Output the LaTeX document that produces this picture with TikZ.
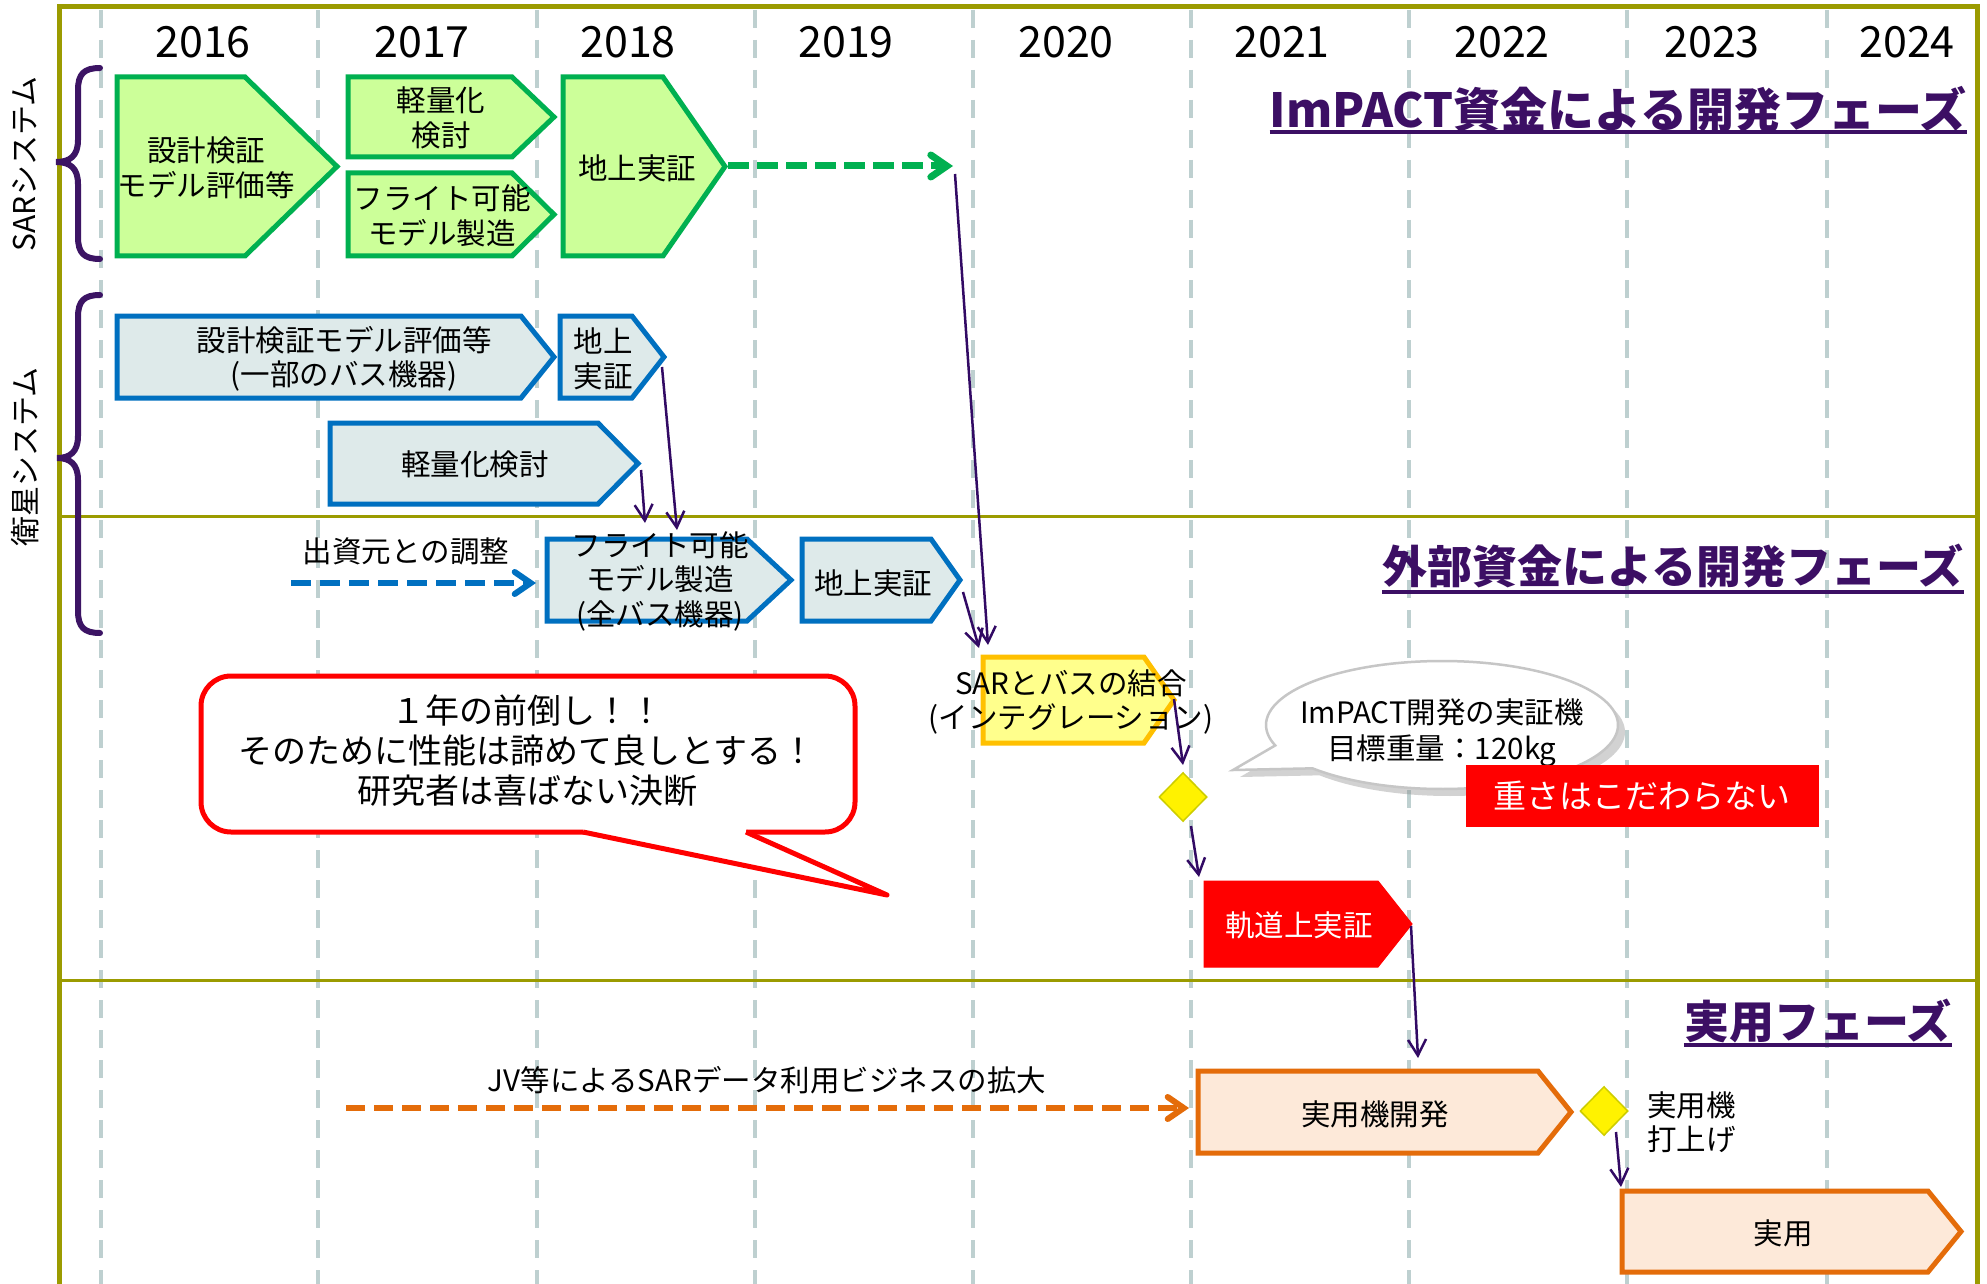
\documentclass[tikz,border=0pt]{standalone}
\usepackage{fontspec}
\setmainfont{Noto Sans CJK JP}
\usetikzlibrary{arrows.meta,shapes.geometric,shapes.callouts,shadows}
\definecolor{olivef}{RGB}{155,155,0}
\definecolor{gridc}{RGB}{190,208,208}
\definecolor{bracec}{RGB}{60,20,100}
\definecolor{headc}{RGB}{60,15,100}
\definecolor{arrc}{RGB}{50,10,100}
\definecolor{gfill}{RGB}{204,255,153}
\definecolor{gline}{RGB}{0,176,80}
\definecolor{bfill}{RGB}{222,234,234}
\definecolor{bline}{RGB}{0,112,192}
\definecolor{yfill}{RGB}{255,255,140}
\definecolor{yline}{RGB}{255,192,0}
\definecolor{ofill}{RGB}{253,233,217}
\definecolor{oline}{RGB}{228,108,10}
\definecolor{dline}{RGB}{205,205,0}
\newcommand\pentshape[6]{\draw[#1] (#2,#3) -- (#4,#3) -- (#5,{(#3+#6)/2}) -- (#4,#6) -- (#2,#6) -- cycle;}
\begin{document}
\begin{tikzpicture}[x=1pt,y=-1pt,
  gridl/.style={draw=gridc,line width=4pt,dash pattern=on 18pt off 12pt},
  gbox/.style={draw=gline,fill=gfill,line width=5pt},
  bbox/.style={draw=bline,fill=bfill,line width=5pt},
  ybox/.style={draw=yline,fill=yfill,line width=5pt},
  rbox/.style={draw=red,fill=red,line width=1pt},
  obox/.style={draw=oline,fill=ofill,line width=5pt},
  txt/.style={font=\fontsize{29.5pt}{34.5pt}\selectfont,align=center,inner sep=0pt},
  bigtxt/.style={font=\fontsize{34pt}{40pt}\selectfont,align=center,inner sep=0pt},
  yeartxt/.style={font=\fontsize{43pt}{43pt}\selectfont,inner sep=0pt},
  sidetxt/.style={font=\fontsize{30pt}{30pt}\selectfont,inner sep=0pt,rotate=90},
  head/.style={font=\bfseries\fontsize{45pt}{45pt}\selectfont,text=headc,inner sep=0pt,anchor=east},
  uline/.style={draw=headc,line width=4pt},
  brace/.style={draw=bracec,line width=6pt,line cap=round},
  parr/.style={draw=arrc,line width=2.5pt,-{Straight Barb[length=16pt,width=18pt]}},
  dashgreen/.style={draw=gline,line width=7pt,dash pattern=on 21pt off 8pt,-{Straight Barb[length=16pt,width=22pt,line cap=round]}},
  dashblue/.style={draw=bline,line width=6pt,dash pattern=on 20pt off 9pt,-{Straight Barb[length=16pt,width=22pt,line cap=round]}},
  dashorange/.style={draw=oline,line width=6pt,dash pattern=on 19pt off 9pt,-{Straight Barb[length=16pt,width=22pt,line cap=round]}},
  dmd/.style={diamond,fill=yellow,draw=dline,line width=1.5pt,minimum width=48pt,minimum height=49pt,inner sep=0pt}
]
\useasboundingbox (0,0) rectangle (1987,1284);
\fill[white] (0,0) rectangle (1987,1284);
% grid
\foreach \gx in {101,318,537,755,973,1191,1409,1627,1827}
  \draw[gridl] (\gx,10) -- (\gx,1290);
% frame and dividers
\draw[olivef,line width=5pt] (59,1290) -- (59,7) -- (1977,7) -- (1977,1290);
\draw[olivef,line width=3pt] (59,516) -- (1977,516);
\draw[olivef,line width=3pt] (59,980) -- (1977,980);
% braces
\draw[brace] (100,68) .. controls (84,68) and (78,74) .. (78,90) -- (78,140)
  .. controls (78,156) and (70,162) .. (56,162) .. controls (70,162) and (78,168) .. (78,184)
  -- (78,237) .. controls (78,253) and (84,259) .. (100,259);
\draw[brace] (100,295) .. controls (84,295) and (78,301) .. (78,317) -- (78,436)
  .. controls (78,452) and (70,458) .. (57,458) .. controls (70,458) and (78,464) .. (78,480)
  -- (78,611) .. controls (78,627) and (84,633) .. (100,633);
\node[sidetxt] (lsar) at (25,164) {SARシステム};
\node[sidetxt] (lsat) at (25,457) {衛星システム};
% years
\node[yeartxt] (y16) at (203,42) {2016};
\node[yeartxt] (y17) at (422,42) {2017};
\node[yeartxt] (y18) at (628,42) {2018};
\node[yeartxt] (y19) at (846,42) {2019};
\node[yeartxt] (y20) at (1066,42) {2020};
\node[yeartxt] (y21) at (1282,42) {2021};
\node[yeartxt] (y22) at (1502,42) {2022};
\node[yeartxt] (y23) at (1712,42) {2023};
\node[yeartxt] (y24) at (1907,42) {2024};
% headings
\node[head,font=\bfseries\fontsize{47pt}{47pt}\selectfont] (h1) at (1967,109) {ImPACT資金による開発フェーズ};
\node[head] (h2) at (1964,566) {外部資金による開発フェーズ};
\node[head] (h3) at (1952,1021) {実用フェーズ};
\coordinate (u1) at (0,132);
\coordinate (u2) at (0,592);
\coordinate (u3) at (0,1045);
\draw[uline] (h1.west |- u1) -- (h1.east |- u1);
\draw[uline] (h2.west |- u2) -- (h2.east |- u2);
\draw[uline] (h3.west |- u3) -- (h3.east |- u3);
% SAR system boxes
\pentshape{gbox}{117}{77}{245}{337}{256}
\pentshape{gbox}{348}{77}{512}{554}{157}
\pentshape{gbox}{348}{173}{512}{554}{256}
\pentshape{gbox}{563}{77}{663}{725}{256}
\node[txt] (g1) at (206,168) {設計検証\\モデル評価等};
\node[txt] (g2) at (441,118) {軽量化\\検討};
\node[txt] (g3) at (442,216) {フライト可能\\モデル製造};
\node[txt] (g4) at (637,168) {地上実証};
% satellite boxes
\pentshape{bbox}{117}{316}{521}{554}{398}
\pentshape{bbox}{560}{316}{632}{664}{398}
\pentshape{bbox}{330}{423}{598}{638}{504}
\pentshape{bbox}{547}{539}{747}{791}{621}
\pentshape{bbox}{802}{539}{931}{960}{621}
\node[txt] (b1) at (344,359) {設計検証モデル評価等\\(一部のバス機器)};
\node[txt] (b2) at (603,359) {地上\\実証};
\node[txt] (b3) at (475,464) {軽量化検討};
\node[txt] (b4) at (660,581) {フライト可能\\モデル製造\\(全バス機器)};
\node[txt] (b5) at (873,583) {地上実証};
\node[txt] (adj) at (406,551) {出資元との調整};
% integration etc
\pentshape{ybox}{983}{657}{1144}{1174}{743}
\node[txt] (integ) at (1071,702) {SARとバスの結合\\(インテグレーション)};
\node[dmd] (d1) at (1183,797) {};
\pentshape{rbox}{1204}{881}{1378}{1412}{967}
\node[txt,text=white] (orbit) at (1299,925) {軌道上実証};
% practical phase
\pentshape{obox}{1198}{1071}{1538}{1571}{1153}
\node[txt] (dev) at (1375,1114) {実用機開発};
\node[dmd] (d2) at (1604,1111) {};
\node[txt,align=left,anchor=west] (launch) at (1647,1122) {実用機\\打上げ};
\pentshape{obox}{1622}{1191}{1928}{1961}{1272}
\node[txt] (use) at (1783,1233) {実用};
\node[txt] (jv) at (767,1080) {JV等によるSARデータ利用ビジネスの拡大};
% dashed arrows
\coordinate (gs) at (728,166);
\coordinate (ge) at (953,166);
\draw[dashgreen] (gs) -- (ge);
\coordinate (bs) at (291,583);
\coordinate (be) at (536,583);
\draw[dashblue] (bs) -- (be);
\coordinate (os) at (346,1108);
\coordinate (oe) at (1189,1108);
\draw[dashorange] (os) -- (oe);
% purple arrows
\coordinate (a1s) at (641,470); \coordinate (a1e) at (645,523);
\coordinate (a2s) at (662,367); \coordinate (a2e) at (677,530);
\coordinate (a3s) at (955,174); \coordinate (a3e) at (988,645);
\coordinate (a4s) at (963,592); \coordinate (a4e) at (979,648);
\coordinate (a5s) at (1174,699); \coordinate (a5e) at (1183,765);
\coordinate (a6s) at (1191,826); \coordinate (a6e) at (1199,877);
\coordinate (a7s) at (1411,926); \coordinate (a7e) at (1418,1058);
\coordinate (a8s) at (1616,1132); \coordinate (a8e) at (1621,1187);
\draw[parr] (a1s) -- (a1e);
\draw[parr] (a2s) -- (a2e);
\draw[parr] (a3s) -- (a3e);
\draw[parr] (a4s) -- (a4e);
\draw[parr] (a5s) -- (a5e);
\draw[parr] (a6s) -- (a6e);
\draw[parr] (a7s) -- (a7e);
\draw[parr] (a8s) -- (a8e);
% red callout
\draw[red,line width=5pt,fill=white,rounded corners=30pt] (201,676) rectangle (855,832);
\fill[white] (583,828) -- (746,828) -- (746,832) -- (887,895) -- (583,832) -- cycle;
\draw[red,line width=5pt,line join=round] (583,832) -- (887,895) -- (746,832);
\node[bigtxt] (note) at (527,751) {１年の前倒し！！\\そのために性能は諦めて良しとする！\\研究者は喜ばない決断};
% bubble
\node[ellipse callout,draw=gray!45,fill=white,line width=2.5pt,minimum width=352pt,minimum height=128pt,
  callout absolute pointer={(1233,770)},callout pointer arc=24,
  drop shadow={opacity=0.35,shadow xshift=7pt,shadow yshift=-7pt}] (bub) at (1442,725) {};
\node[txt,font=\fontsize{29.5pt}{36pt}\selectfont] (bubtxt) at (1442,733) {ImPACT開発の実証機\\目標重量：120kg};
\node[fill=red,minimum width=353pt,minimum height=62pt,inner sep=0pt,text=white,font=\fontsize{33pt}{33pt}\selectfont] (heavy) at (1642,796) {重さはこだわらない};
\end{tikzpicture}
\end{document}
